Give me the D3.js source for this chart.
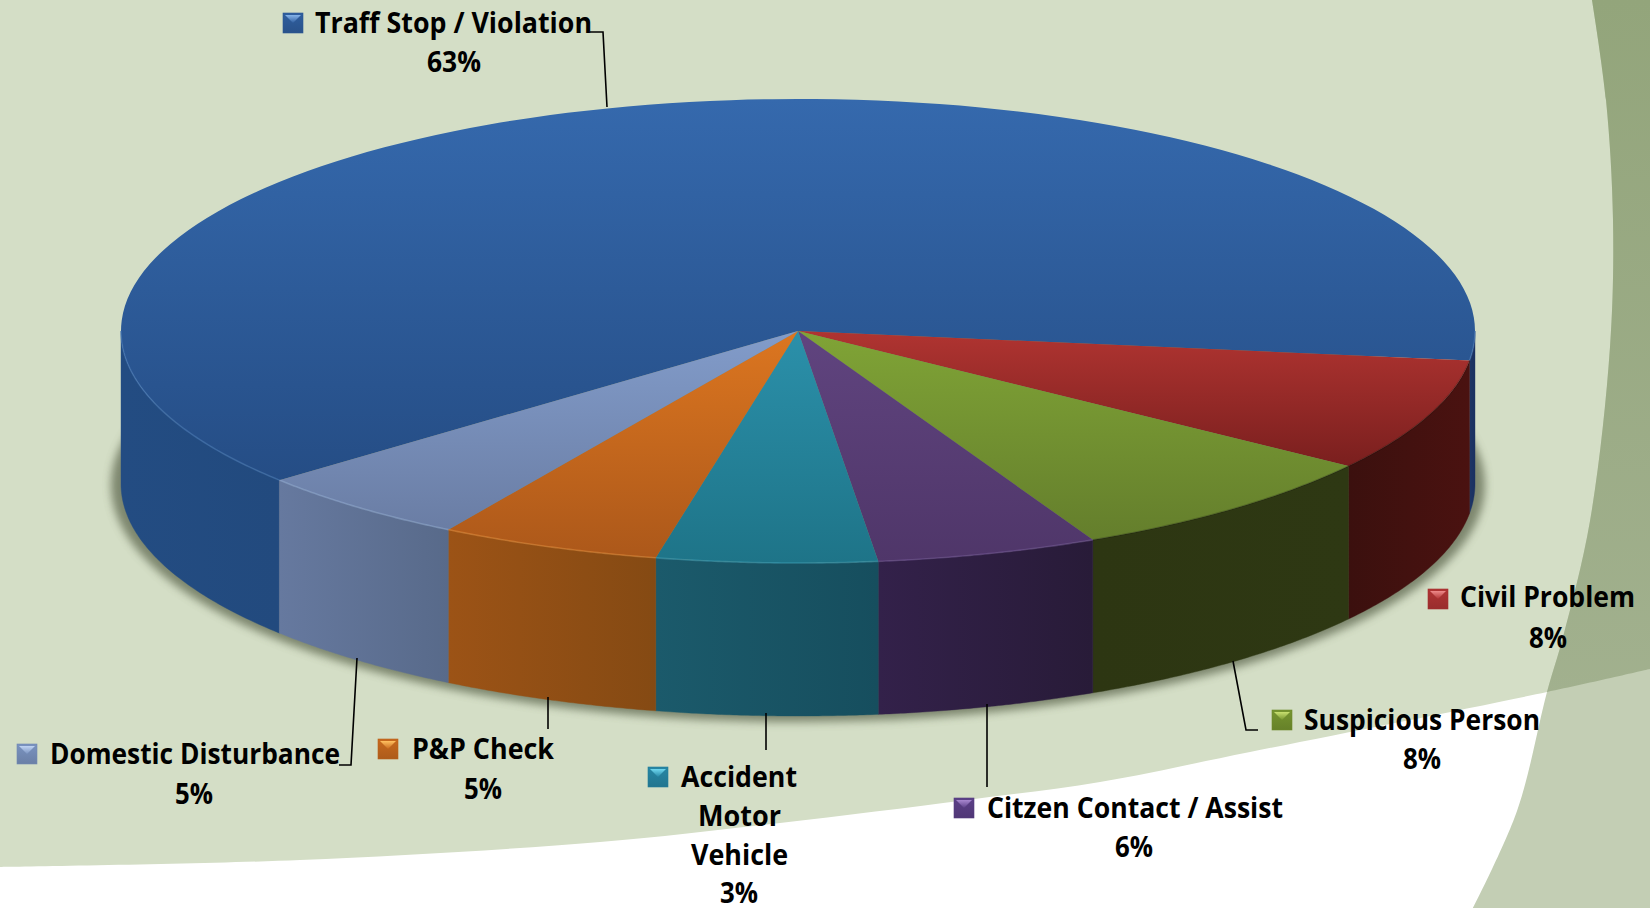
<!DOCTYPE html>
<html><head><meta charset="utf-8">
<style>html,body{margin:0;padding:0;background:#fff;overflow:hidden}svg{display:block}
text{font-family:"Open Sans",Lato,sans-serif;font-weight:700;fill:#000;font-size:28px}</style>
<script src="https://cdnjs.cloudflare.com/ajax/libs/d3/7.8.5/d3.min.js"></script>
</head><body><svg id="c" width="1650" height="908"></svg>
<script>
// data
const categories=["Traff Stop / Violation","Civil Problem","Suspicious Person","Citzen Contact / Assist","Accident Motor Vehicle","P&P Check","Domestic Disturbance"];
const sliceValues=[63.14,7.86,7.94,5.28,5.26,5.27,5.25];
const percentLabels=["63%","8%","8%","6%","3%","5%","5%"];
const topLight=["#3569ad","#b03431","#80a436","#60447f","#2b90aa","#dc7620","#829cca"];
const topDark=["#254d85","#7a1f1e","#647e2c","#4f3669","#1e7488","#ac581a","#6a7da4"];
const sideA=["#234c82","#3b100e","#2d3612","#33214a","#1b5a6b","#9c5316","#66799f"];
const sideB=["#224a7e","#4a1210","#2e3813","#281b38","#164e5e","#854a13","#586a8a"];
const markerDark=["#2f5e9f","#b03434","#76952f","#5c4088","#2787a5","#c8691e","#7a93c0"];
const markerLight=["#86b4ea","#ee8a8a","#c8e070","#a888d0","#70d8f0","#ffc060","#c0d4f4"];
const rimLight=["#4f83c4","#c85a55","#9abc50","#7a5ea0","#45a8c0","#ee9440","#9ab4dc"];

// layout
const labelLayout=[
 {lines:[["Traff Stop / Violation",315,33,277]],pct:[454,72],mk:[283,13]},
 {lines:[["Civil Problem",1460,607,175]],pct:[1548,648],mk:[1428,589]},
 {lines:[["Suspicious Person",1304,730,236]],pct:[1422,769],mk:[1272,710]},
 {lines:[["Citzen Contact / Assist",987,818,296]],pct:[1134,857],mk:[954,798]},
 {lines:[["Accident",681,787,116],["Motor",698,826,83],["Vehicle",691,865,97]],pct:[739,903],mk:[648,767]},
 {lines:[["P&P Check",412,759,142]],pct:[483,799],mk:[378,739]},
 {lines:[["Domestic Disturbance",50,764,290]],pct:[194,804],mk:[17,744]}
];
const leaders=[
 [[590,32],[603,32],[607,107]],
 [[1233,661],[1246,730],[1258,730]],
 [[987,704],[987,787]],
 [[766,713],[766,750]],
 [[548,697],[548,729]],
 [[357,658],[351,765],[339,765]]
];

const svg=d3.select("#c"),defs=svg.append("defs");
const W=1650,H=908;
const line=d3.line().curve(d3.curveCatmullRom.alpha(.5));
const vgrad=(id,stops,x2=0,y2=1)=>{const g=defs.append("linearGradient").attr("id",id).attr("x1",0).attr("y1",0).attr("x2",x2).attr("y2",y2);
 stops.forEach((c,i)=>g.append("stop").attr("offset",i/(stops.length-1)).attr("stop-color",c));};
vgrad("bgDark",["#93a57b","#a6b494"]);
vgrad("sideR",["#1d3566","#1a3060"],1,0);
const rightEdge=[[1592,0],[1606,100],[1613,220],[1610,347],[1590,521],[1563,637],[1547,692],[1517,811],[1473,908]];
const bandEdge=[[0,867],[300,860],[600,842],[780,823],[967,800],[1100,782],[1250,752],[1547,692],[1650,669]];
svg.append("rect").attr("width",W).attr("height",H).attr("fill","#fff");
svg.append("path").attr("d",line(bandEdge)+"L1650,0L0,0Z").attr("fill","#d4dec6");
svg.append("path").attr("d",line(rightEdge)+"L1650,908L1650,0Z").attr("fill","#c3ceb4");
defs.append("clipPath").attr("id","upper").append("path").attr("d",line(bandEdge)+"L1650,0L0,0Z");
svg.append("path").attr("d",line(rightEdge)+"L1650,908L1650,0Z").attr("fill","url(#bgDark)").attr("clip-path","url(#upper)");

// pie
const cx=798,cy=331,rx=677,ry=232,depth=153;
const pie=d3.pie().sort(null).startAngle(230*Math.PI/180).endAngle((230+360)*Math.PI/180);
const arcs=pie(sliceValues);
const arc=d3.arc().innerRadius(0).outerRadius(rx);
defs.append("filter").attr("id","sh").attr("x","-5%").attr("y","-5%").attr("width","110%").attr("height","110%").append("feGaussianBlur").attr("stdDeviation",4);
svg.append("ellipse").attr("cx",cx).attr("cy",cy+depth+1).attr("rx",rx+10).attr("ry",ry+5).attr("fill","#59624a").attr("opacity",.7).attr("filter","url(#sh)");

categories.forEach((c,i)=>{vgrad("top"+i,[topLight[i],topDark[i]]);vgrad("side"+i,[sideA[i],sideB[i]],1,0);vgrad("mk"+i,[markerDark[i],d3.color(markerDark[i]).darker(.4)]);vgrad("mt"+i,[markerLight[i],markerDark[i]]);});

const rim=a=>{const t=a-Math.PI/2;return [cx+rx*Math.cos(t),cy+ry*Math.sin(t)];};
const gSide=svg.append("g"),gTop=svg.append("g").attr("transform",`translate(${cx},${cy}) scale(1,${ry/rx})`),gEdge=svg.append("g");
const rad=Math.PI/180;
arcs.forEach((d,i)=>{
 [[90*rad,270*rad],[450*rad,630*rad]].forEach(([lo,hi],w)=>{
  const a0=Math.max(d.startAngle,lo),a1=Math.min(d.endAngle,hi);
  if(a1<=a0)return;
  const n=60,pts=d3.range(n+1).map(k=>rim(a0+(a1-a0)*k/n));
  const bottom=pts.slice().reverse().map(p=>[p[0],p[1]+depth]);
  const dp="M"+pts.concat(bottom).map(p=>p.join(",")).join("L")+"Z";
  const fill=(i===0&&w===1)?"url(#sideR)":`url(#side${i})`;
  gSide.append("path").attr("d",dp).attr("fill",fill).attr("stroke",fill).attr("stroke-width",.4);
  gEdge.append("path").attr("d","M"+pts.map(p=>p.join(",")).join("L")).attr("fill","none").attr("stroke",i===1||i===2?"#000":rimLight[i]).attr("stroke-opacity",i===1||i===2?.18:.45).attr("stroke-width",1.6);
 });
 gTop.append("path").attr("d",arc(d)).attr("fill",`url(#top${i})`);
});

// leaders
const plain=d3.line();
svg.append("g").selectAll("path").data(leaders).join("path").attr("d",d=>plain(d)).attr("fill","none").attr("stroke","#000").attr("stroke-width",1.6);

// labels
labelLayout.forEach((l,i)=>{
 const g=svg.append("g");
 const [mx,my]=l.mk,s=20;
 g.append("rect").attr("x",mx).attr("y",my).attr("width",s).attr("height",s).attr("fill",`url(#mk${i})`).attr("stroke",d3.color(markerDark[i]).darker(.2)).attr("stroke-width",.6);
 g.append("path").attr("d",`M${mx+2},${my+2}L${mx+s-2},${my+2}L${mx+s/2},${my+s*.5}Z`).attr("fill",`url(#mt${i})`);
 l.lines.forEach(([t,x,y,w])=>g.append("text").attr("x",x).attr("y",y).attr("textLength",w).attr("lengthAdjust","spacingAndGlyphs").text(t));
 const p=percentLabels[i];
 g.append("text").attr("x",l.pct[0]-(p.length===3?27:19)).attr("y",l.pct[1]).attr("textLength",p.length===3?54:38).attr("lengthAdjust","spacingAndGlyphs").text(p);
});
</script></body></html>
